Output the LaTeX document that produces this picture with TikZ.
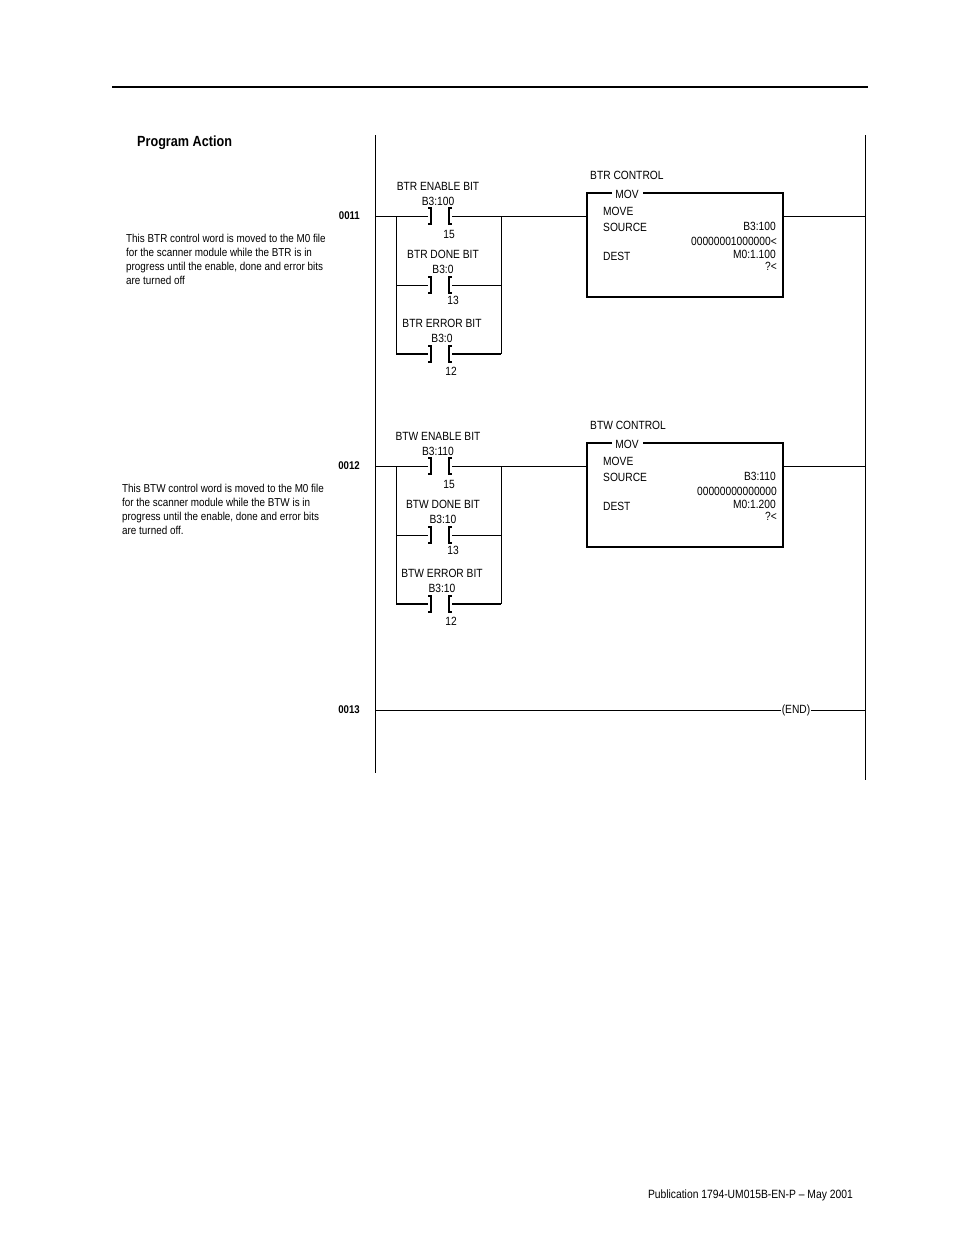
\documentclass[tikz,border=0pt]{standalone}
\usepackage{fontspec}
\setmainfont{Liberation Sans}
\begin{document}
\begin{tikzpicture}[x=1pt,y=-1pt,
  lbl/.style={font=\fontsize{11.9}{14}\selectfont\addfontfeature{FakeStretch=0.86},inner sep=0pt},
  rnum/.style={font=\bfseries\fontsize{11.2}{13}\selectfont\addfontfeature{FakeStretch=0.86},inner sep=0pt,anchor=east},
  wire/.style={line width=0.9pt},
  contact/.pic={\draw[line width=1.1pt] (-12,-8)--(-9,-8)--(-9,8)--(-12,8);
                \draw[line width=1.6pt] (12,-8)--(9,-8)--(9,8)--(12,8);}]
\useasboundingbox (0,0) rectangle (954,1235);
\draw[line width=1.6pt] (112,87)--(868,87);
\node[anchor=west,inner sep=0pt,font=\bfseries\fontsize{14.7}{16}\selectfont\addfontfeature{FakeStretch=0.86}] (title) at (137,143) {Program Action};
\draw[wire] (375,135)--(375,773);
\draw[wire] (865,135)--(865,780);
\foreach \o/\W/\ena/\dn/\ax/\sv/\dst/\cm/\cx/\cend in
 {0/BTR/B3:100/B3:0/{00000001000000<}/B3:100/M0:1.100/{This BTR control word is moved to the M0 file\\for the scanner module while the BTR is in\\progress until the enable, done and error bits\\are turned off}/126/11,
  250/BTW/B3:110/B3:10/{00000000000000}/B3:110/M0:1.200/{This BTW control word is moved to the M0 file\\for the scanner module while the BTW is in\\progress until the enable, done and error bits\\are turned off.}/122/12}{
 \begin{scope}[yshift=-\o pt]
  \node[rnum] at (360,216) {00\cend};
  \node[inner sep=0pt,anchor=north west,align=left,font=\fontsize{11.5}{14}\selectfont\addfontfeature{FakeStretch=0.86}] at (\cx,234) {\cm};
  \draw[wire] (375,216)--(428,216) (452,216)--(587,216);
  \draw[wire] (396,216)--(396,354) (501,216)--(501,354);
  \draw[wire] (396,285)--(428,285) (452,285)--(501,285);
  \draw[line width=1.5pt] (396,354)--(428,354) (452,354)--(501,354);
  \pic at (440,216) {contact};
  \pic at (440,285) {contact};
  \pic at (440,354) {contact};
  \node[lbl] at (438,186) {\W\ ENABLE BIT};
  \node[lbl] at (438,201) {\ena};
  \node[lbl] at (449,234) {15};
  \node[lbl] at (443,254) {\W\ DONE BIT};
  \node[lbl] at (443,269) {\dn};
  \node[lbl] at (453,300) {13};
  \node[lbl] at (442,323) {\W\ ERROR BIT};
  \node[lbl] at (442,338) {\dn};
  \node[lbl] at (451,371) {12};
  \node[lbl,anchor=west] at (590,175) {\W\ CONTROL};
  \draw[line width=1.4pt] (612,193)--(587,193)--(587,297)--(783,297)--(783,193)--(643,193);
  \node[lbl] at (627,194) {MOV};
  \node[lbl,anchor=west] at (603,211) {MOVE};
  \node[lbl,anchor=west] at (603,227) {SOURCE};
  \node[lbl,anchor=east] at (776,226) {\sv};
  \node[lbl,anchor=east] at (777,241) {\ax};
  \node[lbl,anchor=west] at (603,256) {DEST};
  \node[lbl,anchor=east] at (776,254) {\dst};
  \node[lbl,anchor=east] at (777,266) {?<};
  \draw[wire] (783,216)--(865,216);
 \end{scope}}
\node[rnum] at (360,710) {0013};
\node[lbl,inner xsep=1pt] (endc) at (796,710) {(END)};
\draw[wire] (375,710)--(endc.west) (endc.east)--(865,710);
\node[inner sep=0pt,anchor=east,font=\fontsize{12}{14}\selectfont\addfontfeature{FakeStretch=0.86}] (foot) at (853,1195) {Publication 1794-UM015B-EN-P -- May 2001};
\end{tikzpicture}
\end{document}
